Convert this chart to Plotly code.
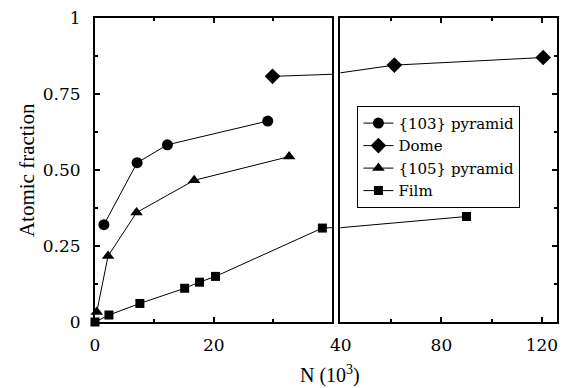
import plotly.graph_objects as go

# Data (N in units of 10^3, atomic fraction)
pyr103_N = [1.5, 7.1, 12.2, 29.1]
pyr103_f = [0.32, 0.524, 0.583, 0.661]
dome_N = [29.9, 61.3, 120.5]
dome_f = [0.808, 0.845, 0.870]
pyr105_N = [0.3, 2.2, 7.0, 16.7, 32.7]
pyr105_f = [0.033, 0.217, 0.36, 0.466, 0.544]
film_N = [0.0, 2.35, 7.56, 15.1, 17.6, 20.3, 38.3, 90.0]
film_f = [0.0, 0.023, 0.061, 0.111, 0.131, 0.150, 0.309, 0.347]

series = [
    ("{103} pyramid", pyr103_N, pyr103_f, "circle", 11),
    ("Dome", dome_N, dome_f, "diamond", 12),
    ("{105} pyramid", pyr105_N, pyr105_f, "triangle-up", 11),
    ("Film", film_N, film_f, "square", 9),
]

BREAK = 40
FONT = "Liberation Serif"
TICKFONT = "DejaVu Serif"

fig = go.Figure()
for name, xs, ys, sym, sz in series:
    for xa, ya, inrange in (("x", "y", lambda v: v <= BREAK), ("x2", "y2", lambda v: v >= BREAK)):
        # connecting line with full data (clipped at each panel edge)
        fig.add_trace(go.Scatter(x=xs, y=ys, mode="lines", xaxis=xa, yaxis=ya,
                                 line=dict(color="black", width=1), showlegend=False,
                                 hoverinfo="skip"))
        mx = [a for a in xs if inrange(a)]
        my = [b for a, b in zip(xs, ys) if inrange(a)]
        fig.add_trace(go.Scatter(x=mx, y=my, mode="markers", xaxis=xa, yaxis=ya,
                                 marker=dict(symbol=sym, size=sz, color="black"),
                                 cliponaxis=False, showlegend=False))
    # legend entry
    fig.add_trace(go.Scatter(x=[None], y=[None], mode="lines+markers", name=name,
                             line=dict(color="black", width=1),
                             marker=dict(symbol=sym, size=sz, color="black")))

tickfont = dict(family=TICKFONT, size=17, color="black")
axis_common = dict(showline=True, linecolor="black", linewidth=2, ticks="inside",
                   tickcolor="black", tickwidth=2, ticklen=5, showgrid=False,
                   zeroline=False, tickfont=tickfont)
minor_common = dict(ticks="inside", ticklen=3, tickwidth=2, tickcolor="black")

fig.update_layout(
    width=566, height=388,
    margin=dict(l=95, r=8, t=14, b=66),
    plot_bgcolor="white", paper_bgcolor="white",
    font=dict(family=TICKFONT, color="black", size=17),
    xaxis=dict(domain=[0, 0.514], range=[0, 40], tickvals=[0, 20], ticktext=["0", "20"],
               mirror="ticks", anchor="y", ticklabelstandoff=7,
               minor=dict(tickvals=[10, 30], **minor_common),
               **axis_common),
    xaxis2=dict(domain=[0.531, 1], range=[39.8, 126], tickvals=[40, 80, 120],
                ticktext=["40", "80", "120"], mirror="ticks", anchor="y2", ticklabelstandoff=7,
                minor=dict(tickvals=[60, 100], **minor_common),
                **axis_common),
    yaxis=dict(domain=[0, 1], range=[0, 1], tickvals=[0, 0.25, 0.5, 0.75, 1],
               ticktext=["0", "0.25", "0.50", "0.75", "1"], mirror=True, anchor="x",
               ticklabelstandoff=9,
               minor=dict(tickvals=[0.125, 0.375, 0.625, 0.875], **minor_common),
               **axis_common),
    yaxis2=dict(domain=[0, 1], range=[0, 1], tickvals=[0, 0.25, 0.5, 0.75, 1],
                showticklabels=False, side="right", mirror=True, anchor="x2",
                minor=dict(tickvals=[0.125, 0.375, 0.625, 0.875], **minor_common),
                **axis_common),
    legend=dict(x=0.568, y=0.711, xanchor="left", yanchor="top",
                bordercolor="black", borderwidth=1, bgcolor="white",
                font=dict(family=TICKFONT, size=15, color="black"),
                itemwidth=30, tracegroupgap=0),
    annotations=[
        dict(text="Atomic fraction", textangle=-90, x=-0.147, y=0.5, xref="paper", yref="paper",
             xanchor="center", yanchor="middle", showarrow=False,
             font=dict(family=FONT, size=21, color="black")),
        dict(text="N (10<sup>3</sup>)", x=0.5076, y=-0.172, xref="paper", yref="paper",
             xanchor="center", yanchor="middle", showarrow=False,
             font=dict(family=FONT, size=20, color="black")),
    ],
)

fig.write_html("out.html")
